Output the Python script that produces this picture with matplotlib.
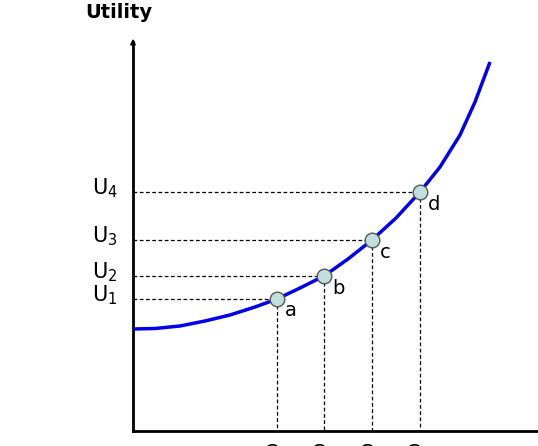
import matplotlib.pyplot as plt

# curve (pixel coords, y down)
curve_x = [133, 155, 180, 205, 230, 255, 277, 300, 324, 348, 372, 396, 420, 440, 460, 475, 490]
curve_y = [329, 328.5, 326, 321, 315, 307, 299, 288, 276, 259, 240, 218, 192, 167, 135, 102, 62]

pt_names = ['a', 'b', 'c', 'd']
pt_x = [277, 324, 372, 420]
pt_y = [299, 276, 240, 192]
u_labels = ['U$_1$', 'U$_2$', 'U$_3$', 'U$_4$']
c_labels = ['C$_1$', 'C$_2$', 'C$_3$', 'C$_4$']

fig = plt.figure(figsize=(5.38, 4.46), dpi=100)
ax = fig.add_axes([0, 0, 1, 1])
ax.set_xlim(0, 538)
ax.set_ylim(446, 0)
ax.axis('off')

# axes
ax.plot([133, 133], [431, 42], color='black', lw=2)
ax.plot([133, 538], [431, 431], color='black', lw=2)
ax.annotate('', xy=(133, 36), xytext=(133, 48),
            arrowprops=dict(arrowstyle='-|>', color='black', lw=1, mutation_scale=8))
ax.text(85, 12, 'Utility', fontsize=14, fontweight='bold', va='center', ha='left')

for x, y in zip(pt_x, pt_y):
    ax.plot([133, x], [y, y], ls='--', color='black', lw=0.9, dashes=(3, 2))
    ax.plot([x, x], [y, 431], ls='--', color='black', lw=0.9, dashes=(3, 2))

ax.plot(curve_x, curve_y, color='#0000ee', lw=2.5, solid_capstyle='butt')
ax.scatter(pt_x, pt_y, s=110, color='#bfdedc', edgecolor='#555555', lw=1, zorder=5)

for n, x, y in zip(pt_names, pt_x, pt_y):
    ax.text(x + 8, y + 12, n, fontsize=14, va='center', ha='left')
for lab, y in zip(u_labels, pt_y):
    ax.text(92, y - 4, lab, fontsize=15, va='center', ha='left')
for lab, x in zip(c_labels, pt_x):
    ax.text(x - 2, 454, lab, fontsize=15, va='center', ha='center')

fig.savefig('out.png', dpi=100)
